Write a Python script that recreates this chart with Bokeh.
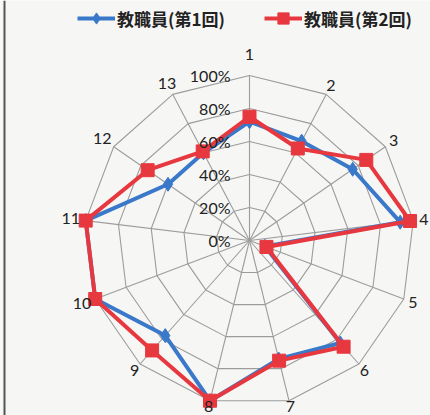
import math
from bokeh.plotting import figure
from bokeh.models import Range1d, Legend, LegendItem, Span
from bokeh.core.properties import value
from bokeh.embed import file_html
from bokeh.resources import INLINE

# ---- data ----
categories = ["1", "2", "3", "4", "5", "6", "7", "8", "9", "10", "11", "12", "13"]
series1_name = "教職員(第1回)"
series2_name = "教職員(第2回)"
series1 = [72, 68, 76, 92, 10, 83, 74, 100, 77, 100, 100, 60, 60]
series2 = [75, 63, 86, 98, 11, 86, 75, 100, 89, 100, 100, 75, 61]
ring_levels = [0, 20, 40, 60, 80, 100]
ring_labels = ["0%", "20%", "40%", "60%", "80%", "100%"]

# ---- layout ----
W, H = 430, 415
CX, CY = 249, 240     # centre in canvas px (from left / from top)
S = 165.0             # px for 100%
BLUE = "#3a78c9"
RED = "#e8383f"
GRID = "#9c9c9c"
BG = "#f6f6f4"

n = len(categories)
ang = [math.pi / 2 - 2 * math.pi * k / n for k in range(n)]

p = figure(width=W, height=H, output_backend="svg", toolbar_location=None,
           x_range=Range1d(-CX / S, (W - CX) / S),
           y_range=Range1d(-(H - CY) / S, CY / S),
           min_border=0, background_fill_color=BG, border_fill_color=BG)
p.axis.visible = False
p.grid.visible = False
p.outline_line_color = None

# rings
for lv in ring_levels[1:]:
    r = lv / 100
    xs = [r * math.cos(a) for a in ang] + [r * math.cos(ang[0])]
    ys = [r * math.sin(a) for a in ang] + [r * math.sin(ang[0])]
    p.line(xs, ys, line_color=GRID, line_width=1.1)
# spokes
p.segment(x0=[0] * n, y0=[0] * n, x1=[math.cos(a) for a in ang],
          y1=[math.sin(a) for a in ang], line_color=GRID, line_width=1.1)

def pts(vals):
    xs = [v / 100 * math.cos(a) for v, a in zip(vals, ang)]
    ys = [v / 100 * math.sin(a) for v, a in zip(vals, ang)]
    return xs + xs[:1], ys + ys[:1], xs, ys

x1c, y1c, x1, y1 = pts(series1)
x2c, y2c, x2, y2 = pts(series2)

l1 = p.line(x1c, y1c, line_color=BLUE, line_width=4)
m1 = p.scatter(x1, y1, marker="diamond", size=14, fill_color=BLUE, line_color=BLUE)
l2 = p.line(x2c, y2c, line_color=RED, line_width=4)
m2 = p.scatter(x2, y2, marker="square", size=13, fill_color=RED, line_color=RED)

# category labels (placed just outside the outer ring)
lx, ly = [], []
for c, a in zip(categories, ang):
    w = 9 * len(c)
    s = math.sin(a)
    d = 6 + (w / 2) * abs(math.cos(a)) + s + 14 * max(s, 0) ** 20
    r = 1 + d / S
    lx.append(r * math.cos(a))
    ly.append(r * math.sin(a))
p.text(x=lx, y=ly, text=categories, text_align="center", text_baseline="middle",
       text_font=value("Lato"), text_font_size="16px", text_color="#222222")

# radial tick labels
p.text(x=[-19 / S] * len(ring_levels), y=[lv / 100 for lv in ring_levels],
       text=ring_labels, text_align="right", text_baseline="middle",
       text_font=value("Lato"), text_font_size="16px", text_color="#222222")

# left frame line
p.add_layout(Span(location=-CX / S + 4 / S, dimension="height",
                  line_color="#555555", line_width=2))

# legends
for rend, name, xpos in [([l1, m1], series1_name, 77), ([l2, m2], series2_name, 264)]:
    lg = Legend(items=[LegendItem(label=name, renderers=rend)],
                location=(xpos, H - 32.3), orientation="horizontal",
                glyph_width=38, glyph_height=28, label_height=28,
                label_standoff=2, padding=0, margin=0,
                background_fill_alpha=0, border_line_alpha=0,
                label_text_font="Noto Sans CJK JP", label_text_font_size="17px",
                label_text_font_style="bold", label_text_color="#222222")
    p.add_layout(lg)

open("out.html", "w").write(file_html(p, INLINE))
